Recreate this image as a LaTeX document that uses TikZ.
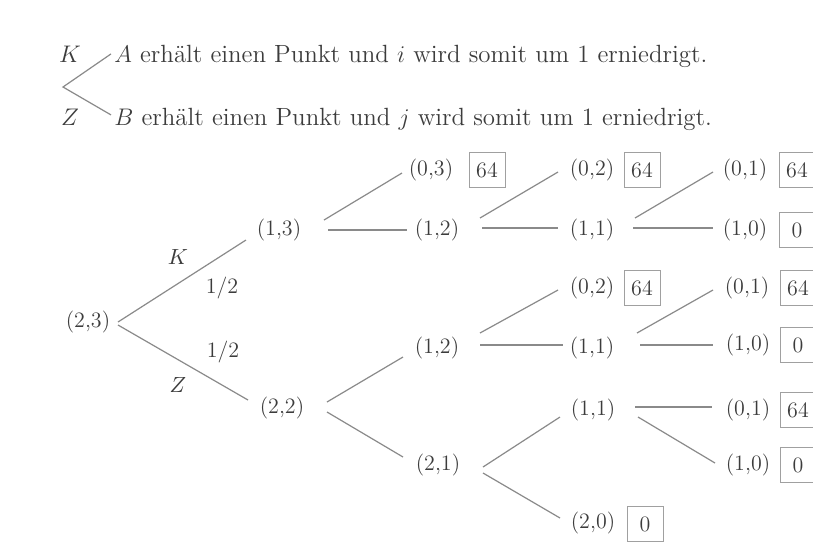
\documentclass[tikz,border=0pt]{standalone}
\usetikzlibrary{calc}
\definecolor{txt}{HTML}{3C3C3C}
\definecolor{linec}{HTML}{8A8A8A}
\definecolor{boxc}{HTML}{A0A0A0}
\definecolor{bg}{HTML}{FFFFFF}
\begin{document}
\begin{tikzpicture}[x=0.5pt,y=-0.5pt,
  lab/.style={inner sep=0pt, text=txt, font=\fontsize{11}{13}\selectfont},
  hdr/.style={inner sep=0pt, text=txt, font=\fontsize{12.45}{14}\selectfont},
  val/.style={draw=boxc, line width=0.5pt, inner sep=0pt, minimum width=18pt,
    minimum height=17.5pt, text=txt, font=\fontsize{11}{13}\selectfont},
  edge/.style={draw=linec, line width=0.6pt}]
\useasboundingbox[fill=bg] (0,0) rectangle (813,543);

% header
\node[hdr, anchor=base] (hK) at (70,62) {$K$};
\node[hdr, anchor=base] (hZ) at (70,125) {$Z$};
\node[hdr, anchor=base west] (hA) at (114,62) {$A$ erhält einen Punkt und $i$ wird somit um 1 erniedrigt.};
\node[hdr, anchor=base west] (hB) at (114,125) {$B$ erhält einen Punkt und $j$ wird somit um 1 erniedrigt.};
\coordinate (hv) at (63,87);
\draw[edge] ($(hA.west)+(-3,-2)$) -- (hv) -- ($(hB.west)+(-3,-4)$);

% tree nodes
\node[lab] (r) at (88,322) {(2,3)};
\node[lab] (k) at (279,230) {(1,3)};
\node[lab] (z) at (282,408) {(2,2)};
\node[lab] (a03) at (431,170) {(0,3)};
\node[val] (v03) at (487,170) {64};
\node[lab] (a12) at (437,230) {(1,2)};
\node[lab] (b02) at (592,170) {(0,2)};
\node[val] (v02a) at (642,170) {64};
\node[lab] (b11) at (592,230) {(1,1)};
\node[lab] (c01) at (745,170) {(0,1)};
\node[val] (v01a) at (797,170) {64};
\node[lab] (c10) at (745,230) {(1,0)};
\node[val] (v10a) at (797,230) {0};
\node[lab] (d12) at (437,348) {(1,2)};
\node[lab] (e02) at (592,288) {(0,2)};
\node[val] (v02b) at (642,288) {64};
\node[lab] (e11) at (592,348) {(1,1)};
\node[lab] (f01) at (747,288) {(0,1)};
\node[val] (v01b) at (798,288) {64};
\node[lab] (f10) at (748,345) {(1,0)};
\node[val] (v10b) at (798,345) {0};
\node[lab] (d21) at (438,465) {(2,1)};
\node[lab] (g11) at (593,410) {(1,1)};
\node[lab] (g20) at (593,523) {(2,0)};
\node[val] (v20) at (645,524) {0};
\node[lab] (h01) at (748,410) {(0,1)};
\node[val] (v01c) at (798,410) {64};
\node[lab] (h10) at (748,465) {(1,0)};
\node[val] (v10c) at (798,465) {0};

% branch labels
\node[lab] (lK) at (178,257) {$K$};
\node[lab] (lp1) at (222,288) {1/2};
\node[lab] (lp2) at (223,352) {1/2};
\node[lab] (lZ) at (178,385) {$Z$};

% edges
\draw[edge] ($(r)+(30,0)$) -- ($(k)+(-33,10)$);
\draw[edge] ($(r)+(30,3)$) -- ($(z)+(-34,-8)$);
\draw[edge] ($(k)+(45,-10)$) -- ($(a03)+(-29,3)$);
\draw[edge] ($(k)+(49,0)$) -- ($(a12)+(-30,0)$);
\draw[edge] ($(a12)+(43,-12)$) -- ($(b02)+(-34,2)$);
\draw[edge] ($(a12)+(45,-2)$) -- ($(b11)+(-34,-2)$);
\draw[edge] ($(b11)+(43,-12)$) -- ($(c01)+(-32,2)$);
\draw[edge] ($(b11)+(41,-2)$) -- ($(c10)+(-32,-2)$);
\draw[edge] ($(z)+(45,-6)$) -- ($(d12)+(-34,9)$);
\draw[edge] ($(z)+(45,4)$) -- ($(d21)+(-35,-8)$);
\draw[edge] ($(d12)+(43,-15)$) -- ($(e02)+(-34,2)$);
\draw[edge] ($(d12)+(43,-3)$) -- ($(e11)+(-29,-3)$);
\draw[edge] ($(e11)+(45,-15)$) -- ($(f01)+(-34,2)$);
\draw[edge] ($(e11)+(48,-3)$) -- ($(f10)+(-35,0)$);
\draw[edge] ($(d21)+(45,2)$) -- ($(g11)+(-33,7)$);
\draw[edge] ($(d21)+(45,8)$) -- ($(g20)+(-33,-5)$);
\draw[edge] ($(g11)+(42,-3)$) -- ($(h01)+(-36,-3)$);
\draw[edge] ($(g11)+(45,7)$) -- ($(h10)+(-33,-2)$);
\end{tikzpicture}
\end{document}
